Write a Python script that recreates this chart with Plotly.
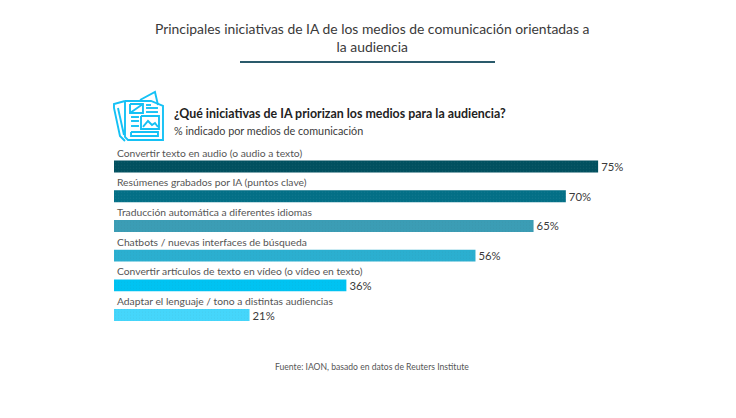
import plotly.graph_objects as go

# --- Data ---
CATEGORIES = [
    "Convertir texto en audio (o audio a texto)",
    "Resúmenes grabados por IA (puntos clave)",
    "Traducción automática a diferentes idiomas",
    "Chatbots / nuevas interfaces de búsqueda",
    "Convertir artículos de texto en vídeo (o vídeo en texto)",
    "Adaptar el lenguaje / tono a distintas audiencias",
]
VALUES = [75, 70, 65, 56, 36, 21]
BAR_COLORS = ["#01505f", "#036f86", "#3b9db5", "#2bafd0", "#00c3f2", "#45d6fb"]

TITLE = "Principales iniciativas de IA de los medios de comunicación orientadas a<br>la audiencia"
HEADING = "<b>¿Qué iniciativas de IA priorizan los medios para la audiencia?</b>"
SUBHEADING = "% indicado por medios de comunicación"
SOURCE = "Fuente: IAON, basado en datos de Reuters Institute"

# the page body adds an 8px margin, so the figure is a little smaller than the window
PAGE_MARGIN = 8
W, H = 728, 410
FONT = "Lato"
TEXT_COLOR = "#3a3a3a"
ICON_COLOR = "#14c1f5"


def px(x):
    return (x - PAGE_MARGIN) / W


def py(y):
    return 1 - (y - PAGE_MARGIN) / H


def path(points):
    """Builds an SVG path in paper coordinates from page pixels."""
    return "M " + " L ".join(f"{px(x):.4f},{py(y):.4f}" for x, y in points)


def icon_shapes():
    """Newspaper icon, outline only."""
    strokes = [
        # front page, back sheet, rolled left edge
        [(125, 101), (151, 101), (163, 106), (163, 140), (128, 140), (125, 137), (125, 101)],
        [(140, 100), (155, 92), (158, 105)],
        [(125, 101), (114, 104), (114, 108), (120, 136), (125, 141)],
        [(118, 108), (124, 135)],
        # small picture with its diagonal
        [(130, 104), (143, 104), (143, 113), (130, 113), (130, 104)],
        [(130, 113), (143, 104)],
        # text lines
        [(146, 105), (151, 105)],
        [(146, 108), (158, 108)],
        [(146, 112), (158, 112)],
        [(131, 117), (139, 117)],
        [(131, 121), (139, 121)],
        [(131, 126), (139, 126)],
        # large picture with hills
        [(141, 116), (159, 116), (159, 129), (141, 129), (141, 116)],
        [(143, 127), (148, 121), (152, 125), (155, 123), (158, 127)],
        # footer bar
        [(131, 132), (158, 132), (158, 136), (131, 136), (131, 132)],
    ]
    return [dict(type="path", xref="paper", yref="paper", path=path(pts),
                 line=dict(color=ICON_COLOR, width=1.9)) for pts in strokes]


def note(x, y, text, size, color, xanchor="center", align="center"):
    fig.add_annotation(x=px(x), y=py(y), xref="paper", yref="paper", text=text, showarrow=False,
                       xanchor=xanchor, yanchor="middle", align=align,
                       font=dict(family=FONT, size=size, color=color))


fig = go.Figure(go.Bar(
    x=VALUES,
    y=CATEGORIES,
    orientation="h",
    marker=dict(color=BAR_COLORS, line_width=0,
                pattern=dict(shape=".", size=3, solidity=0.1, fgcolor="#ffffff", fgopacity=0.08)),
    text=[f"{v}%" for v in VALUES],
    textposition="outside",
    constraintext="none",
    textfont=dict(family=FONT, size=11.3, color=TEXT_COLOR),
    cliponaxis=False,
    width=0.4,
    hoverinfo="skip",
))

# category names sit above their bars
for cat in CATEGORIES:
    fig.add_annotation(x=0, y=cat, xref="x", yref="y", text=cat, showarrow=False,
                       xanchor="left", yanchor="middle", xshift=1, yshift=14,
                       font=dict(family=FONT, size=10.3, color="#555555"))

note(372.5, 38, TITLE, 13.9, TEXT_COLOR)
note(171.5, 113, HEADING, 12.4, "#222222", xanchor="left")
note(171.5, 130, SUBHEADING, 10.8, TEXT_COLOR, xanchor="left")
note(372, 367, SOURCE, 8.6, "#555555")

rule = dict(type="line", xref="paper", yref="paper", x0=px(240), x1=px(495), y0=py(62), y1=py(62),
            line=dict(color="#2a5a6b", width=1.8))

fig.update_layout(
    width=W,
    height=H,
    margin=dict(l=0, r=0, t=0, b=0),
    paper_bgcolor="white",
    plot_bgcolor="white",
    showlegend=False,
    shapes=[rule] + icon_shapes(),
    xaxis=dict(domain=[px(114), 1], range=[0, 96.36], visible=False),
    yaxis=dict(domain=[py(329.9), py(151.7)], range=[5.5, -0.5], visible=False,
               categoryorder="array", categoryarray=CATEGORIES),
)

fig.write_html("out.html")
